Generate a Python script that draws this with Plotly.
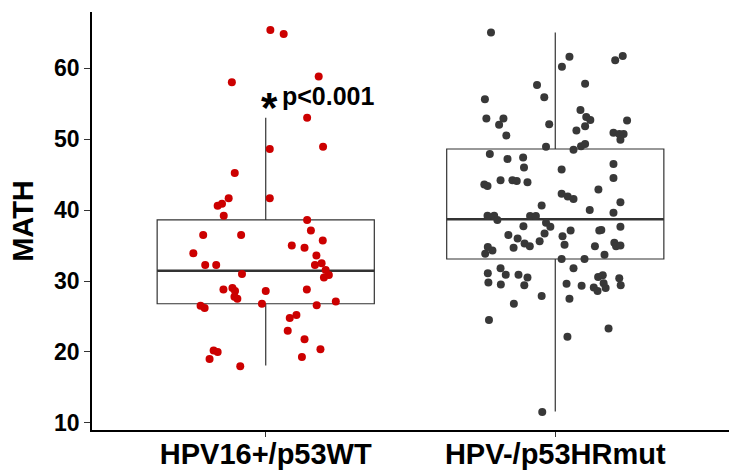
import plotly.graph_objects as go

categories = ["HPV16+/p53WT", "HPV-/p53HRmut"]
group_colors = ["#CC0000", "#383838"]

# box statistics
q1 = [26.8, 33.1]
median = [31.45, 38.7]
q3 = [38.6, 48.6]
lower_whisker = [18.1, 11.6]
upper_whisker = [53.0, 65.0]

# group 1 points: MATH values and horizontal jitter (category units)
g1_math = [65.35, 64.8, 58.8, 58.0, 53.0, 48.6, 48.9, 45.2, 41.65, 41.65,
           40.9, 40.6, 39.2, 38.6, 37.1, 36.5, 36.5, 35.7, 35.0, 34.7,
           33.9, 33.6, 32.25, 32.25, 32.25, 32.5, 31.55, 30.85, 30.5, 31.0,
           28.8, 29.0, 28.6, 28.6, 28.8, 27.8, 27.5, 27.1, 26.8, 26.6,
           26.5, 26.2, 25.2, 24.8, 23.0, 21.8, 20.4, 20.2, 20.0, 19.0,
           19.3, 18.0]
g1_jitter = [0.016, 0.062, 0.183, -0.117, 0.143, 0.014, 0.198, -0.107, 0.014, -0.128,
             -0.151, -0.166, -0.145, 0.143, 0.156, -0.216, -0.085, 0.197, 0.090, 0.134,
             -0.250, 0.175, -0.209, -0.171, 0.170, 0.193, 0.207, 0.218, 0.201, -0.082,
             -0.146, -0.115, -0.106, 0.000, 0.142, -0.108, -0.098, 0.242, -0.013, 0.176,
             -0.225, -0.211, 0.106, 0.083, 0.076, 0.134, 0.189, -0.180, -0.166, -0.194,
             0.125, -0.088]

# group 2 points
g2_math = [65.0, 61.6, 61.7, 61.1, 60.2, 57.6, 57.8, 55.6, 55.9, 54.1,
           52.9, 52.9, 52.0, 53.1, 52.7, 52.6, 52.1, 51.8, 51.2, 50.9,
           50.7, 50.7, 49.9, 50.5, 48.9, 48.5, 49.0, 49.3, 47.9, 47.2,
           47.4, 46.0, 45.7, 46.5, 44.5, 43.6, 43.4, 44.2, 44.2, 44.1,
           43.9, 42.9, 42.3, 41.9, 41.55, 41.1, 40.65, 40.0, 39.6, 39.2,
           39.2, 39.15, 39.15, 38.6, 38.2, 37.65, 37.7, 37.65, 36.5, 36.0,
           36.7, 36.3, 37.1, 37.1, 37.2, 35.6, 35.3, 34.9, 34.7, 35.1,
           34.9, 35.4, 34.9, 35.0, 34.8, 34.3, 33.85, 33.7, 33.1, 33.1,
           31.8, 31.8, 31.1, 30.9, 30.9, 30.5, 30.55, 30.8, 30.4, 29.8,
           29.5, 29.4, 29.6, 29.35, 29.1, 28.6, 29.7, 29.0, 29.4, 27.9,
           27.5, 26.8, 24.5, 23.3, 22.15, 11.55]
g2_jitter = [-0.222, 0.049, 0.233, 0.207, 0.023, -0.063, 0.103, -0.243, -0.038, 0.087,
             -0.238, -0.179, -0.194, 0.107, 0.121, 0.248, -0.021, 0.103, 0.073, 0.201,
             0.221, 0.236, 0.225, -0.169, -0.032, 0.063, 0.089, 0.103, -0.226, -0.165,
             -0.111, -0.108, 0.022, 0.201, 0.201, -0.245, -0.234, -0.189, -0.148, -0.133,
             -0.096, 0.149, 0.022, 0.043, 0.063, 0.225, -0.047, 0.119, 0.201, -0.234,
             -0.211, -0.087, -0.067, -0.200, -0.032, -0.017, -0.110, 0.225, -0.162, -0.130,
             -0.037, 0.025, 0.053, 0.152, 0.159, -0.054, -0.106, -0.088, -0.144, 0.032,
             0.137, 0.204, 0.210, 0.225, -0.233, -0.217, -0.242, 0.170, 0.022, 0.101,
             -0.189, 0.063, -0.233, -0.171, -0.127, -0.096, 0.148, 0.164, 0.221, -0.231,
             -0.188, -0.107, 0.039, 0.091, 0.133, 0.146, 0.167, 0.174, 0.226, -0.047,
             0.049, -0.143, -0.229, 0.184, 0.042, -0.045]

p_label = "p<0.001"

positions = [1, 2]
box_width = 0.75
font_family = "Liberation Sans, Arial, sans-serif"

fig = go.Figure()

fig.add_trace(go.Box(
    x=positions, q1=q1, median=median, q3=q3,
    lowerfence=lower_whisker, upperfence=upper_whisker,
    width=box_width, whiskerwidth=0, boxpoints=False,
    fillcolor="rgba(255,255,255,0)",
    line=dict(color="#333333", width=1.2),
    showlegend=False, hoverinfo="skip",
))

# thicker median lines like ggplot
for pos, med in zip(positions, median):
    fig.add_trace(go.Scatter(
        x=[pos - box_width / 2, pos + box_width / 2], y=[med, med],
        mode="lines", line=dict(color="#333333", width=2.6),
        showlegend=False, hoverinfo="skip",
    ))

for pos, vals, jit, col in [(positions[0], g1_math, g1_jitter, group_colors[0]),
                            (positions[1], g2_math, g2_jitter, group_colors[1])]:
    fig.add_trace(go.Scatter(
        x=[pos + j for j in jit], y=vals, mode="markers",
        marker=dict(color=col, size=8, line=dict(width=0)),
        showlegend=False,
    ))

fig.add_annotation(x=1.218, y=56.06, text="<b>" + p_label + "</b>", showarrow=False,
                   font=dict(family=font_family, size=25, color="black"),
                   xanchor="center", yanchor="middle")
fig.add_annotation(x=1.012, y=55.9, text="<b>*</b>", showarrow=False,
                   font=dict(family=font_family, size=42, color="black"),
                   xanchor="center", yanchor="middle", yshift=-10)

fig.update_layout(
    template="none",
    width=731, height=472,
    margin=dict(l=92, r=2, t=12, b=42),
    plot_bgcolor="white", paper_bgcolor="white",
    font=dict(family=font_family, color="black"),
)
fig.update_xaxes(
    automargin=False,
    range=[0.4, 2.6], tickvals=positions, ticktext=["<b>%s</b>" % c for c in categories],
    tickfont=dict(size=29, color="black"), showgrid=False, zeroline=False,
    showline=True, linecolor="black", linewidth=1.8,
    ticks="outside", ticklen=5, tickcolor="#333333", tickwidth=1.2,
    ticklabelstandoff=-8,
)
fig.update_yaxes(
    automargin=False,
    range=[9.01, 67.9], tickvals=[10, 20, 30, 40, 50, 60],
    ticktext=["<b>%d</b>" % v for v in [10, 20, 30, 40, 50, 60]],
    tickfont=dict(size=23, color="black"), showgrid=False, zeroline=False,
    showline=True, linecolor="black", linewidth=1.8,
    ticks="outside", ticklen=6, tickcolor="#333333", tickwidth=1.2,
    title=dict(text="<b>MATH</b>", font=dict(size=29, color="black"), standoff=12),
)

fig.write_html("out.html")
